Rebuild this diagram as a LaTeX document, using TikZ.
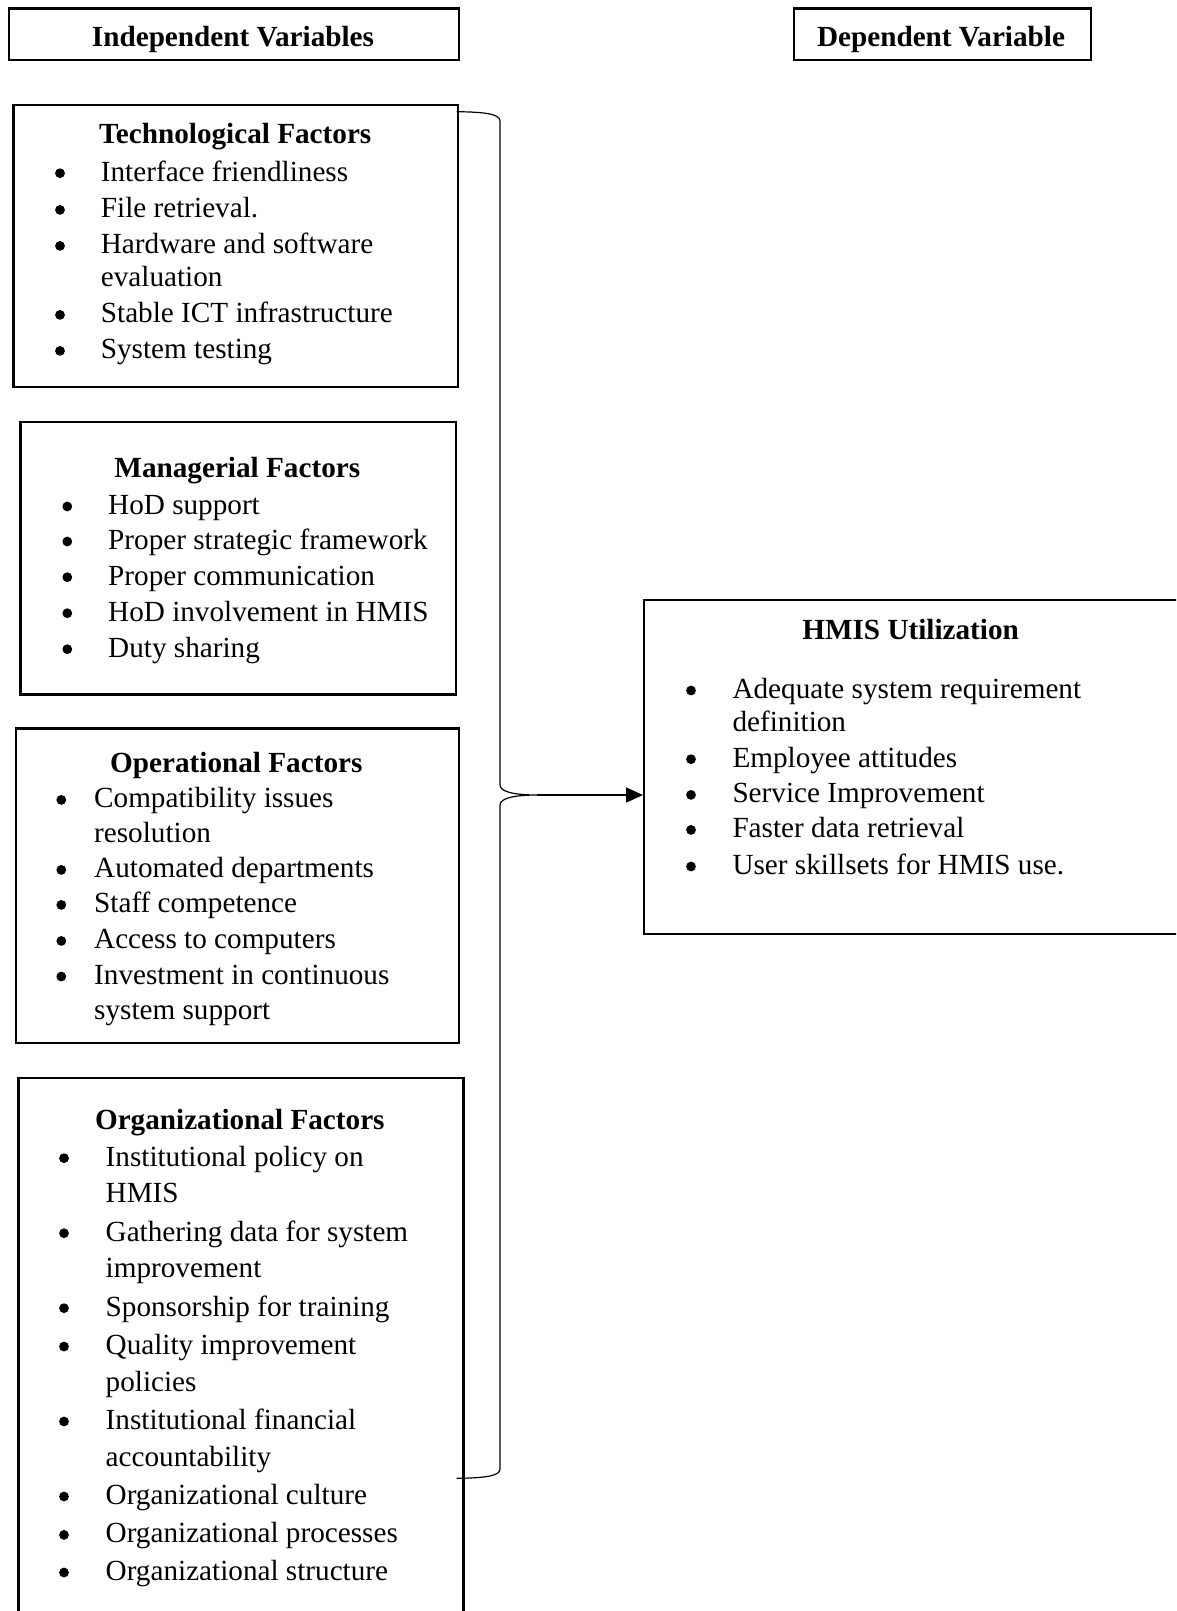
\documentclass[tikz,border=0pt]{standalone}
\usepackage{fontspec}
\setmainfont{Liberation Serif}
\usetikzlibrary{arrows.meta}
\newcommand\myitem[5]{%
  \node[dot] (#1b) at (#2,#4-8) {};
  \node[txt] (#1) at (#3,#4) {#5};}
\newcommand\mycont[4]{%
  \node[txt] (#1) at (#2,#3) {#4};}
\begin{document}
\begin{tikzpicture}[x=1pt,y=-1pt,
  box/.style={draw, line width=2.4pt, inner sep=0pt, anchor=north west},
  txt/.style={anchor=base west, inner sep=0pt, yshift=-1.2pt, font=\fontsize{29.2}{34}\selectfont},
  ttl/.style={anchor=base, inner sep=0pt, yshift=-1.2pt, font=\fontsize{29.2}{34}\selectfont\bfseries},
  dot/.style={circle, fill, inner sep=0pt, yshift=-1.2pt, minimum size=9.8pt},
  brace/.style={line width=1.2pt},
  conn/.style={line width=1.4pt, -{Triangle[length=17pt,width=15pt]}}
]
\useasboundingbox (0,0) rectangle (1176,1611);
\clip (0,0) rectangle (1176,1611);
\fill[white] (0,0) rectangle (1176,1611);

% header boxes
\node[box, minimum width=450pt, minimum height=51.5pt] (indep) at (8,7.5) {};
\node[ttl] (indepT) at (233,45.5) {Independent Variables};
\node[box, minimum width=297.5pt, minimum height=51.5pt] (dep) at (792.5,7.5) {};
\node[ttl] (depT) at (941,45.5) {Dependent Variable};

% technological
\node[box, minimum width=444.7pt, minimum height=282pt] (tech) at (12.3,104) {};
\node[ttl] (techT) at (235.2,142.7) {Technological Factors};
\myitem{t1}{60}{100.7}{180}{Interface friendliness}
\myitem{t2}{60}{100.7}{216.7}{File retrieval.}
\myitem{t3}{60}{100.7}{252.7}{Hardware and software}
\mycont{t3c}{100.7}{285}{evaluation}
\myitem{t4}{60}{100.7}{321.7}{Stable ICT infrastructure}
\myitem{t5}{60}{100.7}{357.7}{System testing}

% managerial
\node[box, minimum width=435.7pt, minimum height=272.6pt] (man) at (19.3,420.7) {};
\node[ttl] (manT) at (237.3,476.7) {Managerial Factors};
\myitem{m1}{67.3}{108}{513.3}{HoD support}
\myitem{m2}{67.3}{108}{548.3}{Proper strategic framework}
\myitem{m3}{67.3}{108}{584}{Proper communication}
\myitem{m4}{67.3}{108}{620}{HoD involvement in HMIS}
\myitem{m5}{67.3}{108}{656}{Duty sharing}

% operational
\node[box, minimum width=443pt, minimum height=314.4pt] (op) at (14.7,727.3) {};
\node[ttl] (opT) at (236.3,771.7) {Operational Factors};
\myitem{o1}{61.3}{94}{806.7}{Compatibility issues}
\mycont{o1c}{94}{841}{resolution}
\myitem{o2}{61.3}{94}{876.7}{Automated departments}
\myitem{o3}{61.3}{94}{911.7}{Staff competence}
\myitem{o4}{61.3}{94}{947.7}{Access to computers}
\myitem{o5}{61.3}{94}{983.3}{Investment in continuous}
\mycont{o5c}{94}{1018.3}{system support}

% organizational
\node[box, minimum width=445pt, minimum height=570pt] (org) at (17.3,1076.7) {};
\node[ttl] (orgT) at (239.8,1128.3) {Organizational Factors};
\myitem{g1}{64}{105.5}{1165}{Institutional policy on}
\mycont{g1c}{105.5}{1201.7}{HMIS}
\myitem{g2}{64}{105.5}{1240}{Gathering data for system}
\mycont{g2c}{105.5}{1276.7}{improvement}
\myitem{g3}{64}{105.5}{1315}{Sponsorship for training}
\myitem{g4}{64}{105.5}{1353.3}{Quality improvement}
\mycont{g4c}{105.5}{1390}{policies}
\myitem{g5}{64}{105.5}{1428.3}{Institutional financial}
\mycont{g5c}{105.5}{1465}{accountability}
\myitem{g6}{64}{105.5}{1503.3}{Organizational culture}
\myitem{g7}{64}{105.5}{1541.7}{Organizational processes}
\myitem{g8}{64}{105.5}{1579.3}{Organizational structure}

% HMIS utilization
\node[box, minimum width=570pt, minimum height=334pt] (hmis) at (643,599) {};
\node[ttl] (hmisT) at (910.6,638) {HMIS Utilization};
\myitem{h1}{691}{732.3}{697.3}{Adequate system requirement}
\mycont{h1c}{732.3}{730}{definition}
\myitem{h2}{691}{732.3}{766}{Employee attitudes}
\myitem{h3}{691}{732.3}{801.7}{Service Improvement}
\myitem{h4}{691}{732.3}{836.7}{Faster data retrieval}
\myitem{h5}{691}{732.3}{873.3}{User skillsets for HMIS use.}

% brace and arrow
\coordinate (bt) at (456.7,111.7);
\coordinate (tip) at (537,795);
\coordinate (bb) at (456.7,1478.3);
\draw[brace] (bt) .. controls (485,112) and (500,114) .. (500,121)
  -- (500,785) .. controls (500,792) and (515,795) .. (tip)
  .. controls (515,795) and (500,798) .. (500,805)
  -- (500,1469) .. controls (500,1476) and (485,1478) .. (bb);
\draw[conn] (tip) -- (tip -| hmis.west);
\end{tikzpicture}
\end{document}
